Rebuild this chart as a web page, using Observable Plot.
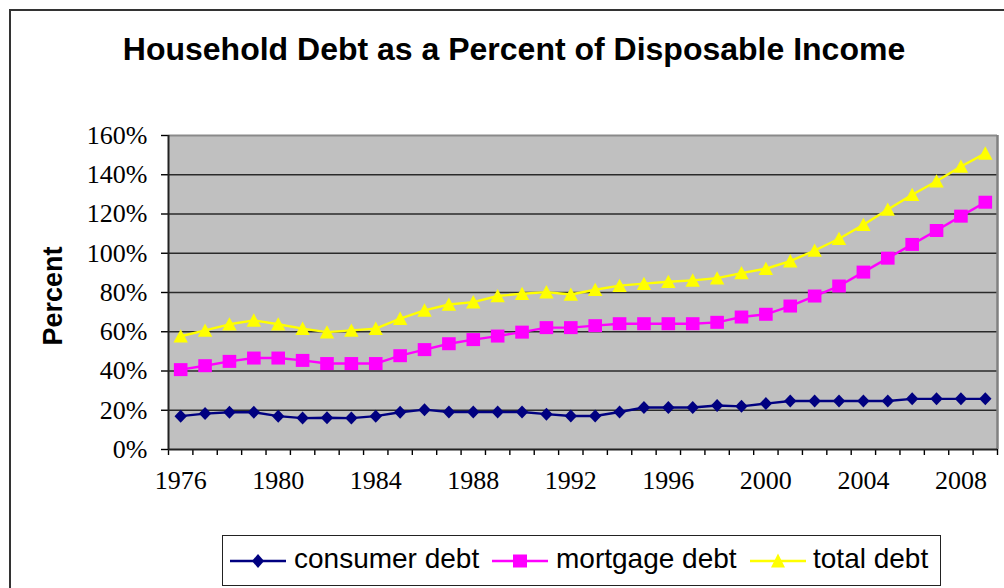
<!DOCTYPE html>
<html>
<head>
<meta charset="utf-8">
<script src="https://cdn.jsdelivr.net/npm/d3@7"></script>
<script src="https://cdn.jsdelivr.net/npm/@observablehq/plot@0.6"></script>
<style>
  html, body { margin: 0; padding: 0; background: #fff; }
  body { width: 1004px; height: 588px; overflow: hidden; position: relative; }
  #frame { position: absolute; left: 9px; top: 9px; width: 1100px; height: 700px; border: 2px solid #333; box-sizing: border-box; }
  #chart { position: absolute; left: 0; top: 0; }
  #title { position: absolute; left: 114px; width: 800px; top: 33px; text-align: center; font: bold 32px "Liberation Sans", Arial, sans-serif; line-height: 32px; color: #000; white-space: nowrap; }
  #ylabel { position: absolute; left: 53px; top: 296px; transform: translate(-50%, -50%) rotate(-90deg); font: bold 27px "Liberation Sans", Arial, sans-serif; line-height: 27px; white-space: nowrap; color: #000; }
  #legend { position: absolute; left: 222px; top: 535px; width: 719px; height: 51px; border: 1px solid #222; box-sizing: border-box; background: #fff; }
  .lg-sw { position: absolute; top: 14px; }
  .lg-tx { position: absolute; top: 7px; font: 28px "Liberation Sans", Arial, sans-serif; line-height: 32px; color: #000; white-space: nowrap; }
</style>
</head>
<body>
<div id="frame"></div>
<div id="chart"></div>
<div id="title">Household Debt as a Percent of Disposable Income</div>
<div id="ylabel">Percent</div>
<div id="legend"></div>
<script>
// ---- Data ----
const years = d3.range(1976, 2010);
const consumerDebt = [17, 18.3, 19, 19, 17, 16, 16.2, 16, 17, 19, 20.3, 19.1,
  19.1, 19.1, 19.1, 18, 17.1, 17.1, 19.1, 21.4, 21.4, 21.4, 22.4,
  22, 23.4, 24.7, 24.7, 24.7, 24.7, 24.7, 25.8, 25.8, 25.8, 25.8];
const mortgageDebt = [40.7, 42.7, 44.9, 46.6, 46.6, 45.4, 43.8, 43.8, 43.8, 47.8, 50.9, 53.9,
  56.0, 57.8, 59.8, 62.1, 62.1, 63.1, 64.1, 64.1, 64.1, 64.1, 64.8,
  67.5, 68.9, 73.1, 78.2, 83.3, 90.4, 97.5, 104.5, 111.6, 118.9, 126.0];
const totalDebt = [57.7, 60.7, 63.8, 65.8, 63.8, 61.6, 59.8, 60.7, 61.6, 66.7, 70.9, 73.9,
  75.1, 78.2, 79.4, 80.2, 79.0, 81.4, 83.5, 84.5, 85.5, 86.2, 87.3,
  89.9, 92.1, 96.0, 101.4, 107.4, 114.5, 122.3, 129.8, 136.7, 144.2, 150.9];
const seriesNames = ["consumer debt", "mortgage debt", "total debt"];
const yTicks = [0, 20, 40, 60, 80, 100, 120, 140, 160];
const xLabelYears = [1976, 1980, 1984, 1988, 1992, 1996, 2000, 2004, 2008];

const colors = ["#000080", "#FF00FF", "#FFFF00"];

// custom marker shapes
const diamondSym = {draw(c) { c.moveTo(0, -6.5); c.lineTo(6.2, 0); c.lineTo(0, 6.5); c.lineTo(-6.2, 0); c.closePath(); }};
const squareSym = {draw(c) { c.moveTo(-6.8, -6.5); c.lineTo(6.8, -6.5); c.lineTo(6.8, 6.5); c.lineTo(-6.8, 6.5); c.closePath(); }};
const triangleSym = {draw(c) { c.moveTo(0, -7); c.lineTo(7.2, 6.3); c.lineTo(-7.2, 6.3); c.closePath(); }};
const symbols = [diamondSym, squareSym, triangleSym];

const seriesValues = [consumerDebt, mortgageDebt, totalDebt];
const tables = seriesValues.map((vals, i) => years.map((y, j) => ({year: y, value: vals[j], series: seriesNames[i]})));

const boundaries = d3.range(1975.5, 2010.5, 1);

const marks = [
  Plot.frame({fill: "#C0C0C0", stroke: "none"}),
  Plot.gridY(yTicks.filter(v => v > 0 && v < 160), {stroke: "#2a2a2a", strokeOpacity: 1, strokeWidth: 1.3}),
  Plot.ruleY([160], {stroke: "#8a8a8a", strokeWidth: 2}),
  Plot.ruleX([2009.5], {stroke: "#808080", strokeWidth: 2.5}),
  Plot.axisY({ticks: yTicks, tickFormat: d => d + "%", tickSize: 7, tickPadding: 14, label: null, strokeWidth: 1.4}),
  Plot.axisX({ticks: boundaries, tickFormat: () => "", tickSize: 6, label: null, strokeWidth: 1.4}),
  Plot.axisX({ticks: xLabelYears, tickFormat: d => String(d), tickSize: 0, tickPadding: 21, label: null}),
  Plot.ruleX([1975.5], {stroke: "#222", strokeWidth: 2}),
  Plot.ruleY([0], {stroke: "#222", strokeWidth: 2})
];
tables.forEach((t, i) => {
  marks.push(Plot.line(t, {x: "year", y: "value", stroke: colors[i], strokeWidth: 2.4}));
});
tables.forEach((t, i) => {
  marks.push(Plot.dot(t, {x: "year", y: "value", symbol: symbols[i], r: 6, fill: colors[i], stroke: "none"}));
});

const chart = Plot.plot({
  width: 1004,
  height: 588,
  marginLeft: 168,
  marginRight: 7,
  marginTop: 135,
  marginBottom: 139,
  x: {type: "linear", domain: [1975.5, 2009.5]},
  y: {type: "linear", domain: [0, 160]},
  style: {background: "transparent", fontFamily: "'Liberation Serif', 'Times New Roman', serif", fontSize: "26px", color: "#000", overflow: "visible"},
  marks
});
document.getElementById("chart").appendChild(chart);

// ---- Legend ----
const legend = document.getElementById("legend");
const swX = [7, 269, 527];
const txX = [71, 333, 590];
const shapes = [
  '<polygon points="28,4 34,11 28,18 22,11" />',
  '<rect x="21" y="4.5" width="14" height="13" />',
  '<polygon points="28,3.5 35,17.5 21,17.5" />'
];
seriesNames.forEach((name, i) => {
  const sw = document.createElement("div");
  sw.className = "lg-sw";
  sw.style.left = swX[i] + "px";
  sw.innerHTML = `<svg width="56" height="22" style="display:block"><line x1="0" x2="56" y1="11" y2="11" stroke="${colors[i]}" stroke-width="2.4"/><g fill="${colors[i]}">${shapes[i]}</g></svg>`;
  legend.appendChild(sw);
  const tx = document.createElement("div");
  tx.className = "lg-tx";
  tx.style.left = txX[i] + "px";
  tx.textContent = name;
  legend.appendChild(tx);
});
</script>
</body>
</html>
